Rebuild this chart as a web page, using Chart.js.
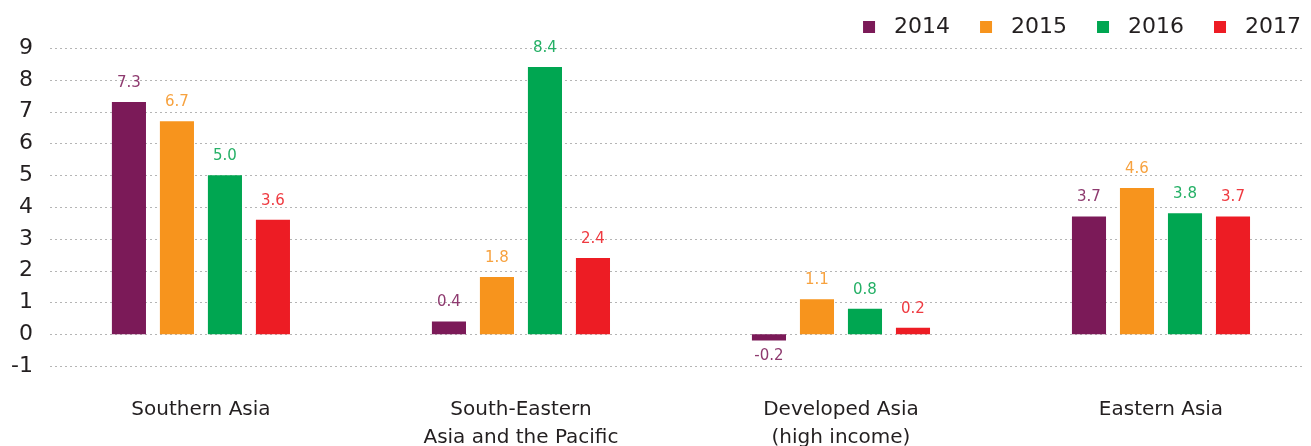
<!DOCTYPE html>
<html>
<head>
<meta charset="utf-8">
<script src="https://cdn.jsdelivr.net/npm/chart.js@4/dist/chart.umd.min.js"></script>
<style>
  html, body { margin: 0; padding: 0; background: #fff; overflow: hidden; }
  #wrap { position: relative; width: 1321px; height: 446px; }
</style>
</head>
<body>
<div id="wrap"><canvas id="barChart" width="1321" height="446"></canvas></div>
<script>
const regions = [
  ['Southern Asia'],
  ['South-Eastern', 'Asia and the Pacific'],
  ['Developed Asia', '(high income)'],
  ['Eastern Asia']
];
const years = ['2014', '2015', '2016', '2017'];
const values2014 = [7.3, 0.4, -0.2, 3.7];
const values2015 = [6.7, 1.8, 1.1, 4.6];
const values2016 = [5.0, 8.4, 0.8, 3.8];
const values2017 = [3.6, 2.4, 0.2, 3.7];
const yTicks = [-1, 0, 1, 2, 3, 4, 5, 6, 7, 8, 9];

const barColors = ['#7b1a58', '#f7941d', '#00a651', '#ed1c24'];
const labelColors = ['#8e3a6f', '#f7a23f', '#25b066', '#ef3a40'];
const fontFamily = '"DejaVu Sans", sans-serif';
const textColor = '#231f20';

// dotted grid lines, drawn from the y scale ticks
const dottedGrid = {
  id: 'dottedGrid',
  beforeDatasetsDraw(chart) {
    const ctx = chart.ctx;
    const y = chart.scales.y;
    ctx.save();
    ctx.strokeStyle = '#b5b5b5';
    ctx.lineWidth = 1;
    ctx.setLineDash([2, 3]);
    yTicks.forEach((t) => {
      const py = Math.round(y.getPixelForValue(t)) + 0.5;
      ctx.beginPath();
      ctx.moveTo(50, py);
      ctx.lineTo(1302, py);
      ctx.stroke();
    });
    ctx.restore();
  }
};

// value labels above (or below) each bar
const valueLabels = {
  id: 'valueLabels',
  afterDatasetsDraw(chart) {
    const ctx = chart.ctx;
    ctx.save();
    ctx.font = '15px ' + fontFamily;
    ctx.textAlign = 'center';
    ctx.textBaseline = 'middle';
    chart.data.datasets.forEach((ds, i) => {
      chart.getDatasetMeta(i).data.forEach((bar, j) => {
        const v = ds.data[j];
        ctx.fillStyle = labelColors[i];
        const py = v >= 0 ? bar.y - 19 : bar.y + 16;
        ctx.fillText(v.toFixed(1), bar.x, py);
      });
    });
    ctx.restore();
  }
};

// legend in the top right corner, built from the datasets
const topLegend = {
  id: 'topLegend',
  afterDraw(chart) {
    const ctx = chart.ctx;
    ctx.save();
    ctx.font = '22px ' + fontFamily;
    ctx.textBaseline = 'middle';
    ctx.textAlign = 'left';
    let right = 1301;
    const ds = chart.data.datasets.slice().reverse();
    ds.forEach((d) => {
      const w = ctx.measureText(d.label).width;
      const tx = right - w;
      ctx.fillStyle = textColor;
      ctx.fillText(d.label, tx, 27);
      ctx.fillStyle = d.backgroundColor;
      ctx.fillRect(tx - 19 - 12, 21, 12, 12);
      right = tx - 19 - 12 - 30;
    });
    ctx.restore();
  }
};

const allValues = [values2014, values2015, values2016, values2017];

new Chart(document.getElementById('barChart').getContext('2d'), {
  type: 'bar',
  data: {
    labels: regions,
    datasets: years.map((yr, i) => ({
      label: yr,
      data: allValues[i],
      backgroundColor: barColors[i],
      borderWidth: 0,
      categoryPercentage: 0.6,
      barPercentage: 0.71
    }))
  },
  options: {
    responsive: false,
    animation: false,
    devicePixelRatio: 1,
    layout: { padding: { top: 48, left: 3, right: 0, bottom: -36 } },
    plugins: {
      legend: { display: false },
      tooltip: { enabled: false }
    },
    scales: {
      x: {
        grid: { display: false, drawTicks: false },
        border: { display: false },
        ticks: {
          color: textColor,
          padding: 30,
          autoSkip: false,
          maxRotation: 0,
          minRotation: 0,
          font: { family: fontFamily, size: 20, lineHeight: 1.4 }
        }
      },
      y: {
        min: -1,
        max: 9,
        afterBuildTicks: (axis) => { axis.ticks = yTicks.map((v) => ({ value: v })); },
        grid: { display: false, drawTicks: false },
        border: { display: false },
        ticks: {
          color: textColor,
          padding: 8,
          autoSkip: false,
          font: { family: fontFamily, size: 22 }
        }
      }
    }
  },
  plugins: [dottedGrid, valueLabels, topLegend]
});
</script>
</body>
</html>
